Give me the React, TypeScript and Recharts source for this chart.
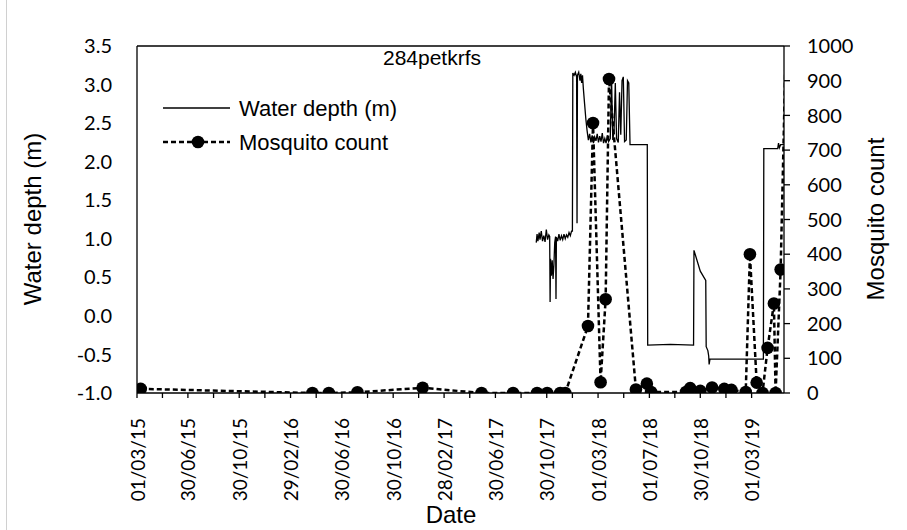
import { ComposedChart, Legend, Line, ReferenceLine, XAxis, YAxis } from "recharts";

const chartTitle = "284petkrfs";

// axis ticks (Excel date axis, 4-month steps)
const dateTickLabels = [
  "01/03/15", "30/06/15", "30/10/15", "29/02/16", "30/06/16", "30/10/16", "28/02/17",
  "30/06/17", "30/10/17", "01/03/18", "01/07/18", "30/10/18", "01/03/19",
];
const axisEndDate = "2019-05-17";
const depthTicks = [-1, -0.5, 0, 0.5, 1, 1.5, 2, 2.5, 3, 3.5];
const countTicks = [0, 100, 200, 300, 400, 500, 600, 700, 800, 900, 1000];

// mosquito trap counts
const mosquitoDates = [
  "2015-03-10", "2016-04-21", "2016-05-30", "2016-08-06", "2017-01-08", "2017-05-28",
  "2017-08-11", "2017-10-07", "2017-10-31", "2017-12-01", "2017-12-13", "2018-02-05",
  "2018-02-17", "2018-03-07", "2018-03-19", "2018-03-27", "2018-05-30", "2018-06-25",
  "2018-07-05", "2018-09-26", "2018-10-06", "2018-10-30", "2018-11-27", "2018-12-26",
  "2019-01-12", "2019-02-15", "2019-02-25", "2019-03-13", "2019-03-27", "2019-04-08",
  "2019-04-23", "2019-04-27", "2019-05-09", "2019-05-22",
];
const mosquitoCounts = [
  12, 0, 0, 2, 15, 0,
  0, 0, 0, 0, 0, 193,
  778, 31, 270, 905, 10, 27,
  3, 3, 14, 6, 16, 12,
  9, 3, 400, 30, 0, 130,
  258, 0, 356, 1040,
];

// logged water depth
const depthDates = [
  "2017-10-05", "2017-10-07", "2017-10-09", "2017-10-12", "2017-10-14", "2017-10-17",
  "2017-10-20", "2017-10-23", "2017-10-26", "2017-10-29", "2017-11-01", "2017-11-04",
  "2017-11-06", "2017-11-07", "2017-11-08", "2017-11-10", "2017-11-12", "2017-11-14",
  "2017-11-16", "2017-11-18", "2017-11-20", "2017-11-21", "2017-11-22", "2017-11-25",
  "2017-11-28", "2017-12-01", "2017-12-04", "2017-12-07", "2017-12-10", "2017-12-13",
  "2017-12-16", "2017-12-19", "2017-12-22", "2017-12-25", "2017-12-28", "2017-12-30",
  "2017-12-31", "2018-01-03", "2018-01-06", "2018-01-09", "2018-01-10", "2018-01-11",
  "2018-01-14", "2018-01-17", "2018-01-19", "2018-01-21", "2018-01-23", "2018-01-25",
  "2018-01-28", "2018-01-31", "2018-02-03", "2018-02-06", "2018-02-09", "2018-02-12",
  "2018-02-15", "2018-02-18", "2018-02-21", "2018-02-24", "2018-02-27", "2018-03-02",
  "2018-03-05", "2018-03-08", "2018-03-11", "2018-03-14", "2018-03-17", "2018-03-20",
  "2018-03-23", "2018-03-26", "2018-03-30", "2018-04-02", "2018-04-05", "2018-04-08",
  "2018-04-11", "2018-04-14", "2018-04-18", "2018-04-21", "2018-04-24", "2018-04-27",
  "2018-04-30", "2018-05-03", "2018-05-07", "2018-05-10", "2018-05-13", "2018-05-16",
  "2018-05-22", "2018-06-26", "2018-06-27", "2018-08-20", "2018-10-14", "2018-10-15",
  "2018-10-30", "2018-11-12", "2018-11-13", "2018-11-17", "2018-11-19", "2018-11-20",
  "2018-11-22", "2019-03-29", "2019-03-30", "2019-05-02", "2019-05-04", "2019-05-06",
  "2019-05-09", "2019-05-25",
];
const depthValues = [
  0.95, 1.06, 0.97, 1.08, 0.99, 1.1,
  0.97, 1.04, 0.96, 1.12, 0.99, 1.05,
  1.03, 0.18, 0.74, 0.52, 0.72, 0.48,
  0.66, 0.95, 1.03, 0.22, 1.02, 0.97,
  1.06, 0.98, 1.04, 0.99, 1.06, 1.0,
  1.05, 1.02, 1.08, 1.04, 1.1, 1.1,
  3.15, 3.12, 3.16, 3.1, 1.2, 3.12,
  3.16, 3.05, 3.14, 3.02, 3.12, 2.95,
  2.75, 2.55, 2.4, 2.28, 2.36, 2.25,
  2.34, 2.24, 2.32, 2.27, 2.36, 2.25,
  2.33, 2.26, 2.37, 2.24, 2.3, 2.24,
  2.34, 2.26, 2.3, 3.1, 2.28, 2.4,
  3.02, 2.3, 2.25, 2.9, 2.35, 3.05,
  3.1, 2.26, 2.28, 3.05, 3.02, 2.22,
  2.22, 2.22, -0.38, -0.37, -0.38, 0.85,
  0.58, 0.46, -0.4, -0.45, -0.52, -0.63,
  -0.56, -0.56, 2.17, 2.17, 2.24, 2.18,
  2.22, 2.22,
];

const isoDay = (s: string) => {
  const [y, m, d] = s.split("-").map(Number);
  return Date.UTC(y, m - 1, d) / 86400000;
};
const labelDay = (s: string) => {
  const [d, m, y] = s.split("/").map(Number);
  return Date.UTC(2000 + y, m - 1, d) / 86400000;
};

const majorTicks = dateTickLabels.map(labelDay);
const minorTicks = majorTicks.slice(1).map((t, i) => (t + majorTicks[i]) / 2);
const xTicks = [...majorTicks, ...minorTicks].sort((a, b) => a - b);
const labelByDay = new Map(majorTicks.map((t, i) => [t, dateTickLabels[i]]));
const xDomain = [majorTicks[0], isoDay(axisEndDate)];

const mosquitoData = mosquitoDates.map((d, i) => ({ day: isoDay(d), count: mosquitoCounts[i] }));
const depthData = depthDates.map((d, i) => ({ day: isoDay(d), depth: depthValues[i] }));

const textFont = "'Liberation Sans', Arial, sans-serif";
const tickFont = "Lato, sans-serif";
const axisStyle = { stroke: "#000", strokeWidth: 1.3 };

const legendOrder = ["depth", "count"];
const legendStyles: Record<string, { dash?: string; width: number; dot: boolean }> = {
  depth: { width: 1.3, dot: false },
  count: { dash: "5 3", width: 2.5, dot: true },
};

function DateTick({ x, y, payload }: any) {
  const label = labelByDay.get(payload.value);
  if (!label) return null;
  return (
    <text
      x={x}
      y={y}
      transform={`rotate(-90 ${x} ${y})`}
      textAnchor="end"
      dominantBaseline="central"
      fontSize={19}
      fontFamily={tickFont}
      fill="#000"
    >
      {label}
    </text>
  );
}

function AxisTitle({ viewBox, text, dx, dy, rot }: any) {
  const cx = viewBox.x + dx;
  const cy = viewBox.y + dy;
  return (
    <text
      x={cx}
      y={cy}
      transform={rot ? `rotate(${rot} ${cx} ${cy})` : undefined}
      textAnchor="middle"
      dominantBaseline="central"
      fontSize={24}
      fontFamily={textFont}
      fill="#000"
    >
      {text}
    </text>
  );
}

function LegendContent({ payload }: any) {
  const items = [...(payload || [])].sort(
    (a: any, b: any) => legendOrder.indexOf(a.dataKey) - legendOrder.indexOf(b.dataKey)
  );
  return (
    <svg width={300} height={70} style={{ overflow: "visible" }}>
      {items.map((entry: any, i: number) => {
        const st = legendStyles[entry.dataKey] || legendStyles.depth;
        const y = 12 + i * 34;
        return (
          <g key={entry.value}>
            <line x1={0} x2={67} y1={y} y2={y} stroke="#000" strokeWidth={st.width} strokeDasharray={st.dash} />
            {st.dot && <circle cx={35} cy={y} r={6.3} fill="#000" />}
            <text x={76} y={y} dominantBaseline="central" fontSize={22} fontFamily={textFont} fill="#000">
              {entry.value}
            </text>
          </g>
        );
      })}
    </svg>
  );
}

export default function App() {
  return (
    <div style={{ position: "absolute", left: 0, top: 0, width: 907, height: 530, background: "#fff" }}>
      <div style={{ position: "absolute", left: 6, top: 0, width: 1, height: 530, background: "#d0d0d0" }} />
      <ComposedChart width={907} height={530} margin={{ top: 46, right: 0, bottom: 0, left: 0 }}>
        <XAxis
          dataKey="day"
          type="number"
          domain={xDomain}
          allowDataOverflow
          ticks={xTicks}
          interval={0}
          height={137}
          tickSize={5}
          tickMargin={20}
          tick={<DateTick />}
          axisLine={axisStyle}
          tickLine={axisStyle}
          label={<AxisTitle text="Date" dx={314} dy={121} />}
        />
        <YAxis
          yAxisId="left"
          type="number"
          domain={[-1, 3.5]}
          allowDataOverflow
          ticks={depthTicks}
          interval={0}
          width={137}
          tickSize={0}
          tickMargin={25}
          tickLine={false}
          axisLine={axisStyle}
          tickFormatter={(v: number) => v.toFixed(1)}
          tick={{ fill: "#000", fontSize: 20, fontFamily: tickFont }}
          label={<AxisTitle text="Water depth (m)" dx={32} dy={173} rot={-90} />}
        />
        <YAxis
          yAxisId="right"
          orientation="right"
          type="number"
          domain={[0, 1000]}
          allowDataOverflow
          ticks={countTicks}
          interval={0}
          width={123}
          tickSize={6}
          tickMargin={17}
          axisLine={axisStyle}
          tickLine={axisStyle}
          tick={{ fill: "#000", fontSize: 20, fontFamily: tickFont }}
          label={<AxisTitle text="Mosquito count" dx={91} dy={173} rot={-90} />}
        />
        <ReferenceLine yAxisId="left" y={3.5} stroke="#000" strokeWidth={1.3} />
        <Legend
          layout="horizontal"
          verticalAlign="middle"
          align="center"
          content={<LegendContent />}
          wrapperStyle={{ left: 163, top: 96, width: 300, height: 70 }}
        />
        <Line
          yAxisId="left"
          data={depthData}
          dataKey="depth"
          name="Water depth (m)"
          type="linear"
          stroke="#000"
          strokeWidth={1.3}
          dot={false}
          activeDot={false}
          isAnimationActive={false}
        />
        <Line
          yAxisId="right"
          data={mosquitoData}
          dataKey="count"
          name="Mosquito count"
          type="linear"
          stroke="#000"
          strokeWidth={2.5}
          strokeDasharray="5 3"
          dot={{ r: 6.3, fill: "#000", stroke: "#000", strokeWidth: 0 }}
          activeDot={false}
          isAnimationActive={false}
        />
      </ComposedChart>
      <div
        style={{
          position: "absolute",
          left: 332,
          top: 47,
          width: 200,
          textAlign: "center",
          fontSize: 21,
          lineHeight: "22px",
          fontFamily: textFont,
          color: "#000",
        }}
      >
        {chartTitle}
      </div>
    </div>
  );
}
